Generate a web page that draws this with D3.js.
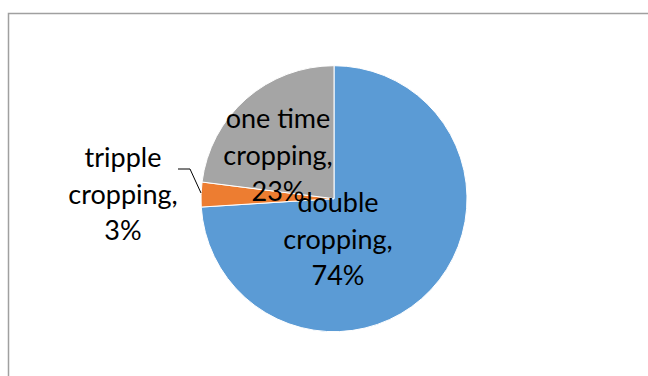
<!DOCTYPE html>
<html>
<head>
<meta charset="utf-8">
<script src="https://cdn.jsdelivr.net/npm/d3@7"></script>
<style>
  html, body { margin: 0; padding: 0; background: #fff; }
  svg { display: block; }
</style>
</head>
<body>
<svg id="chart" width="648" height="376"></svg>
<script>
// Cropping intensity shares
const categories = ["double cropping", "tripple cropping", "one time cropping"];
const shares = [74, 3, 23];
const colors = ["#5B9BD5", "#ED7D31", "#A5A5A5"];

const W = 648, H = 376;
const cx = 334, cy = 198.7, radius = 133;

const svg = d3.select("#chart");

// chart-area frame (top and left edges visible)
svg.append("path")
  .attr("d", "M8.5,376 V13.5 H648")
  .attr("fill", "none")
  .attr("stroke", "#a0a0a0")
  .attr("stroke-width", 1.5);

const pie = d3.pie().sort(null).value(d => d)(shares);
const arc = d3.arc().innerRadius(0).outerRadius(radius);

const g = svg.append("g").attr("transform", `translate(${cx},${cy})`);
g.selectAll("path.slice")
  .data(pie)
  .join("path")
  .attr("class", "slice")
  .attr("d", arc)
  .attr("fill", (d, i) => colors[i])
  .attr("stroke", "#fff")
  .attr("stroke-width", 1);

// label layout: center x and first baseline for each category
const labelLayout = [
  { x: 338, y: 212 },
  { x: 123, y: 167 },
  { x: 278, y: 128 }
];
const lineStep = 36.5;

// leader line for the thin slice
svg.append("polyline")
  .attr("points", "178,169 190,169 201,193")
  .attr("fill", "none")
  .attr("stroke", "#000")
  .attr("stroke-width", 1);

const labels = svg.append("g")
  .attr("font-family", "Lato, 'Open Sans', sans-serif")
  .attr("font-size", 27)
  .attr("fill", "#000")
  .attr("text-anchor", "middle");

categories.forEach((name, i) => {
  const words = name.split(" ");
  const lines = words.length === 3
    ? [words[0] + " " + words[1], words[2] + ","]
    : [words[0], words[1] + ","];
  lines.push(shares[i] + "%");
  const t = labels.append("text");
  lines.forEach((ln, j) => {
    t.append("tspan")
      .attr("x", labelLayout[i].x)
      .attr("y", labelLayout[i].y + j * lineStep)
      .text(ln);
  });
});
</script>
</body>
</html>
